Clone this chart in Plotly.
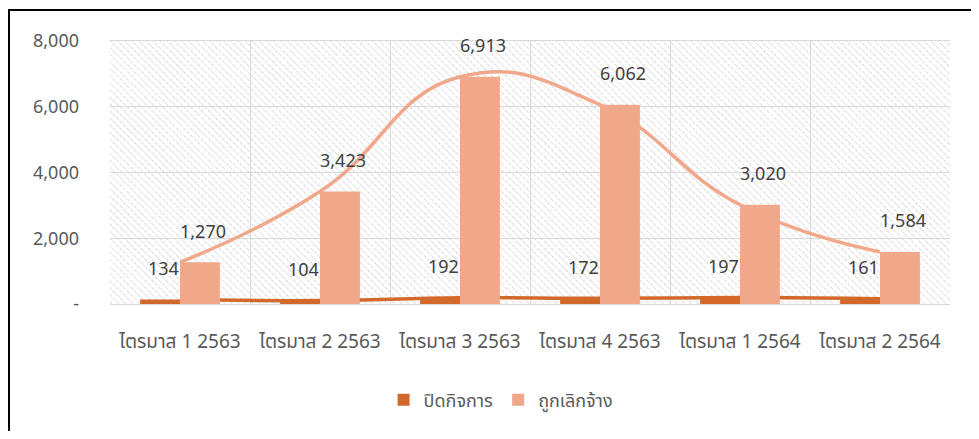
import base64
import plotly.graph_objects as go

categories = ["ไตรมาส 1 2563", "ไตรมาส 2 2563", "ไตรมาส 3 2563",
              "ไตรมาส 4 2563", "ไตรมาส 1 2564", "ไตรมาส 2 2564"]
closed_business = [134, 104, 192, 172, 197, 161]
laid_off = [1270, 3423, 6913, 6062, 3020, 1584]
series_names = ["ปิดกิจการ", "ถูกเลิกจ้าง"]
y_tickvals = [0, 2000, 4000, 6000, 8000]
y_ticktext = ["-", "2,000", "4,000", "6,000", "8,000"]

DARK = "#D2692B"
LIGHT = "#F1A78A"
FONT = "Noto Sans Thai, Leelawadee UI, Tahoma, Noto Sans, DejaVu Sans, sans-serif"
# page body has an 8px margin; size the figure so nothing scrolls
W, H = 971, 423
ML, MR, MT, MB = 102, 29, 33, 127
PW, PH = W - ML - MR, H - MT - MB
x_range = [-0.5, len(categories) - 0.5]

# hatched background for plot area (SVG pattern, "\" direction)
svg = f'''<svg xmlns="http://www.w3.org/2000/svg" width="{PW}" height="{PH}">
<defs><pattern id="p" patternUnits="userSpaceOnUse" width="5" height="5" patternTransform="rotate(-45)">
<rect width="5" height="5" fill="white"/>
<line x1="0" y1="0" x2="0" y2="5" stroke="#D4D4D4" stroke-width="1.6" stroke-dasharray="2,1"/></pattern></defs>
<rect width="{PW}" height="{PH}" fill="url(#p)"/></svg>'''
uri = "data:image/svg+xml;base64," + base64.b64encode(svg.encode()).decode()

fig = go.Figure()

# smoothed lines (below bars)
fig.add_trace(go.Scatter(x=categories, y=laid_off, mode="lines",
                         line=dict(color=LIGHT, width=3.5, shape="spline", smoothing=1.3),
                         showlegend=False, hoverinfo="skip", xaxis="x", yaxis="y"))
fig.add_trace(go.Scatter(x=categories, y=closed_business, mode="lines",
                         line=dict(color=DARK, width=3.5, shape="spline", smoothing=1.3),
                         showlegend=False, hoverinfo="skip", xaxis="x", yaxis="y"))

# bars on overlay axes (drawn above the lines)
fig.add_trace(go.Bar(x=categories, y=closed_business, name=series_names[0],
                     marker=dict(color=DARK, line=dict(width=0)), xaxis="x2", yaxis="y2"))
fig.add_trace(go.Bar(x=categories, y=laid_off, name=series_names[1],
                     marker=dict(color=LIGHT, line=dict(width=0)), xaxis="x2", yaxis="y2"))

annotations = []
for c, v in zip(categories, closed_business):
    annotations.append(dict(x=c, y=v, xref="x2", yref="y2", text=f"{v:,}", showarrow=False,
                            xshift=-17, yshift=30, font=dict(size=18, color="#404040", family=FONT)))
for c, v in zip(categories, laid_off):
    annotations.append(dict(x=c, y=v, xref="x2", yref="y2", text=f"{v:,}", showarrow=False,
                            xshift=23, yshift=30, font=dict(size=18, color="#404040", family=FONT)))

fig.update_layout(
    width=W, height=H,
    margin=dict(l=ML, r=MR, t=MT, b=MB),
    paper_bgcolor="white", plot_bgcolor="rgba(0,0,0,0)",
    font=dict(family=FONT, color="#595959", size=18),
    barmode="group", bargap=0.43, bargroupgap=0,
    xaxis=dict(type="category", categoryarray=categories, categoryorder="array",
               range=x_range,
               tickson="boundaries", showgrid=True, gridcolor="#D9D9D9", gridwidth=1,
               showline=True, linecolor="#D9D9D9", mirror=True, ticks="",
               ticklabelstandoff=20, tickfont=dict(size=19, color="#595959")),
    yaxis=dict(range=[0, 8000], tickvals=y_tickvals, ticktext=y_ticktext,
               showgrid=True, gridcolor="#D9D9D9", gridwidth=1, zeroline=False,
               showline=False, ticks="", ticklabelstandoff=30,
               tickfont=dict(size=18, color="#595959")),
    xaxis2=dict(type="category", categoryarray=categories, categoryorder="array",
                range=x_range, overlaying="x", visible=False),
    yaxis2=dict(range=[0, 8000], overlaying="y", visible=False),
    legend=dict(orientation="h", x=0.465, xanchor="center", y=-0.365, yanchor="middle",
                font=dict(size=18, color="#595959", family=FONT), itemwidth=30,
                traceorder="normal"),
    annotations=annotations,
    images=[dict(source=uri, xref="paper", yref="paper", x=0, y=1, sizex=1, sizey=1,
                 xanchor="left", yanchor="top", sizing="stretch", layer="below")],
    shapes=[dict(type="rect", xref="paper", yref="paper",
                 x0=(1 - ML) / PW, x1=(W + 10 - ML) / PW,
                 y0=-(H + 10 - MT - PH) / PH, y1=1 + (MT - 2) / PH,
                 line=dict(color="black", width=2), fillcolor="rgba(0,0,0,0)", layer="above")],
)

fig.write_html("out.html")
